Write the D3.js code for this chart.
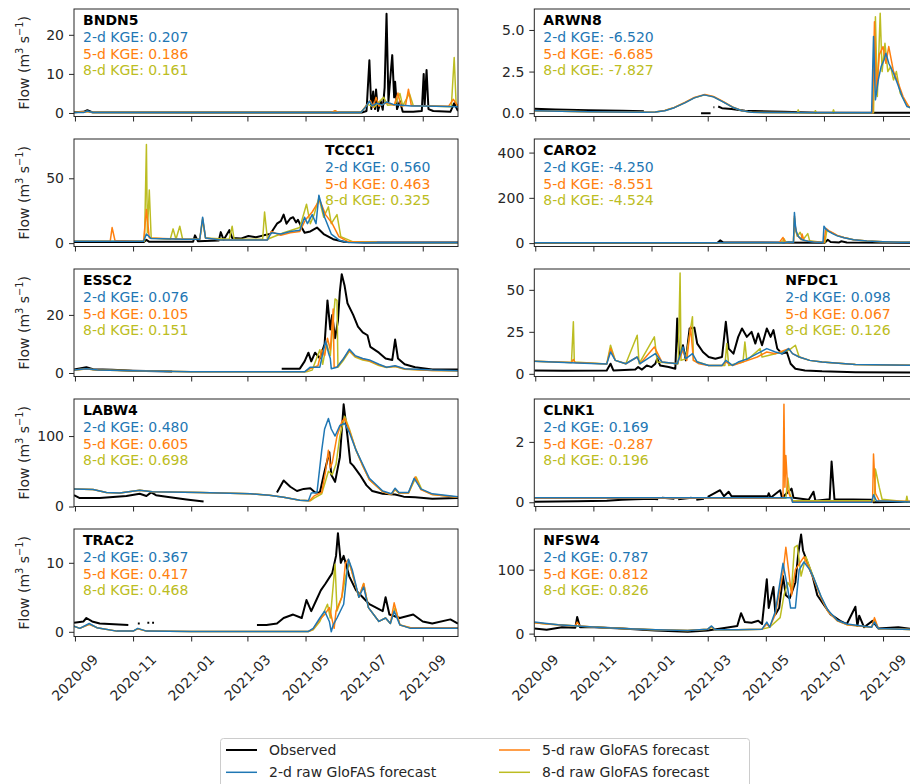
<!DOCTYPE html>
<html><head><meta charset="utf-8">
<script src="https://cdn.jsdelivr.net/npm/d3@7"></script>
<style>
body{margin:0;background:#fff}
svg{display:block}
text{font-family:"DejaVu Sans",sans-serif}
</style>
</head><body>
<svg id="chart" width="910" height="784"></svg>
<script>
// ---------------- DATA ----------------
const stations = ["BNDN5","ARWN8","TCCC1","CARO2","ESSC2","NFDC1","LABW4","CLNK1","TRAC2","NFSW4"];
const kge2 = ["0.207","-6.520","0.560","-4.250","0.076","0.098","0.480","0.169","0.367","0.787"];
const kge5 = ["0.186","-6.685","0.463","-8.551","0.105","0.067","0.605","-0.287","0.417","0.812"];
const kge8 = ["0.161","-7.827","0.325","-4.524","0.151","0.126","0.698","0.196","0.468","0.826"];
const yTicks = [[0,10,20],[0,2.5,5],[0,50],[0,200,400],[0,20],[0,25,50],[0,100],[0,2],[0,10],[0,100]];
const yLimits = [[-0.9,26.6],[-0.2,6.26],[-2.6,80.3],[-15,460],[-1.2,35.8],[-1.6,62.4],[0,152.6],[-0.14,3.42],[-0.68,14.9],[-4.5,163.6]];
const xTickLabels = ["2020-09","2020-11","2021-01","2021-03","2021-05","2021-07","2021-09"];
const dateRange = ["2020-08-31","2021-10-08"];
const seriesNames = ["Observed","2-d raw GloFAS forecast","5-d raw GloFAS forecast","8-d raw GloFAS forecast"];

const obsBNDN5 = [["2020-08-31",0.2],["2020-09-10",0.3],["2020-09-14",0.7],["2020-09-19",0.2],["2021-01-15",0.1],["2021-06-29",0.1],["2021-07-04",0.5],["2021-07-07",13.5],["2021-07-09",1.0],["2021-07-11",5.5],["2021-07-13",1.0],["2021-07-14",6.0],["2021-07-16",0.5],["2021-07-19",3.0],["2021-07-21",0.8],["2021-07-23",6.5],["2021-07-25",25.4],["2021-07-27",3.0],["2021-07-28",6.0],["2021-07-30",12.0],["2021-07-31",14.8],["2021-08-02",4.0],["2021-08-03",8.0],["2021-08-05",1.0],["2021-08-08",3.0],["2021-08-11",0.3],["2021-08-22",0.3],["2021-08-31",0.5],["2021-09-02",10.0],["2021-09-03",2.0],["2021-09-05",11.0],["2021-09-07",1.0],["2021-09-12",0.5],["2021-09-30",0.3],["2021-10-04",2.5],["2021-10-08",0.5]];
const f2BNDN5 = [["2020-08-31",0.1],["2020-09-10",0.1],["2020-09-14",0.5],["2020-09-20",0.1],["2021-06-28",0.1],["2021-07-03",1.5],["2021-07-07",3.0],["2021-07-10",1.8],["2021-07-15",2.5],["2021-07-20",2.0],["2021-07-25",2.8],["2021-08-01",2.2],["2021-08-10",2.0],["2021-08-20",1.8],["2021-09-01",1.8],["2021-09-15",1.7],["2021-10-08",1.6]];
const f5BNDN5 = [["2020-08-31",0.1],["2020-09-14",0.4],["2020-09-20",0.1],["2021-05-28",0.1],["2021-06-01",0.6],["2021-06-05",0.1],["2021-06-28",0.1],["2021-07-04",2.0],["2021-07-08",3.2],["2021-07-11",1.5],["2021-07-14",4.0],["2021-07-17",1.8],["2021-07-25",2.6],["2021-08-02",2.0],["2021-08-06",5.1],["2021-08-09",1.8],["2021-08-14",2.0],["2021-08-17",6.1],["2021-08-20",1.9],["2021-09-10",1.8],["2021-09-28",1.7],["2021-10-03",3.5],["2021-10-08",1.8]];
const f8BNDN5 = [["2020-08-31",0.1],["2020-09-14",0.4],["2020-09-20",0.1],["2021-05-28",0.1],["2021-06-01",0.5],["2021-06-05",0.1],["2021-06-28",0.1],["2021-07-05",2.2],["2021-07-12",1.5],["2021-07-22",4.0],["2021-07-26",2.0],["2021-08-03",2.2],["2021-08-08",5.0],["2021-08-11",1.8],["2021-08-18",5.0],["2021-08-22",1.9],["2021-09-15",1.7],["2021-10-01",1.6],["2021-10-04",14.2],["2021-10-06",2.5],["2021-10-08",1.6]];

const obsARWN8 = [["2020-08-31",0.27],["2020-09-22",0.22],["2020-10-27",0.18],["2020-12-01",0.15],["2020-12-24",0.12],["2020-12-25",null],["2021-02-22",0.0],["2021-03-04",0.0],["2021-03-05",null],["2021-03-07",0.35],["2021-03-08",0.35],["2021-03-09",null],["2021-03-12",0.4],["2021-03-16",0.3],["2021-03-26",0.25],["2021-04-09",0.15],["2021-05-07",0.1],["2021-05-20",0.08],["2021-06-24",0.03],["2021-10-08",0.03]];
const f2ARWN8 = [["2020-08-31",0.15],["2020-10-27",0.08],["2020-12-25",0.05],["2021-01-05",0.07],["2021-01-15",0.15],["2021-01-25",0.33],["2021-02-05",0.62],["2021-02-15",0.92],["2021-02-25",1.1],["2021-03-07",0.98],["2021-03-17",0.68],["2021-03-27",0.36],["2021-04-06",0.15],["2021-04-16",0.05],["2021-08-20",0.02],["2021-08-22",4.6],["2021-08-24",0.8],["2021-08-27",2.0],["2021-08-30",2.8],["2021-09-02",3.2],["2021-09-04",3.6],["2021-09-07",3.0],["2021-09-12",2.4],["2021-09-16",1.8],["2021-09-21",1.0],["2021-09-26",0.4],["2021-10-08",0.2]];
const f5ARWN8 = [["2020-08-31",0.15],["2020-10-27",0.08],["2020-12-25",0.05],["2021-01-05",0.07],["2021-01-15",0.16],["2021-01-25",0.34],["2021-02-05",0.64],["2021-02-15",0.94],["2021-02-26",1.12],["2021-03-07",1.0],["2021-03-17",0.7],["2021-03-27",0.37],["2021-04-06",0.15],["2021-04-16",0.05],["2021-08-21",0.02],["2021-08-23",5.5],["2021-08-25",1.2],["2021-08-28",3.5],["2021-09-01",4.0],["2021-09-04",3.0],["2021-09-07",4.0],["2021-09-12",2.5],["2021-09-17",1.8],["2021-09-22",1.0],["2021-09-28",0.4],["2021-10-08",0.2]];
const f8ARWN8 = [["2020-08-31",0.15],["2020-10-27",0.08],["2020-12-25",0.05],["2021-01-05",0.07],["2021-01-15",0.16],["2021-01-25",0.34],["2021-02-05",0.63],["2021-02-15",0.93],["2021-02-26",1.1],["2021-03-07",0.99],["2021-03-17",0.69],["2021-03-27",0.36],["2021-04-06",0.15],["2021-04-16",0.05],["2021-06-03",0.02],["2021-06-04",0.2],["2021-06-05",0.02],["2021-06-21",0.02],["2021-06-22",0.15],["2021-06-23",0.02],["2021-07-10",0.02],["2021-07-11",0.2],["2021-07-12",0.02],["2021-08-22",0.02],["2021-08-24",5.8],["2021-08-26",1.0],["2021-08-29",6.0],["2021-08-31",2.5],["2021-09-03",4.2],["2021-09-06",2.5],["2021-09-09",2.8],["2021-09-12",2.0],["2021-09-15",2.5],["2021-09-19",1.2],["2021-09-25",0.6],["2021-10-01",0.2],["2021-10-08",0.15]];

const obsTCCC1 = [["2020-08-31",0.8],["2020-11-12",0.8],["2020-11-15",2.5],["2020-11-18",1.0],["2021-01-03",1.0],["2021-01-05",6.0],["2021-01-08",1.5],["2021-01-30",2.0],["2021-02-01",8.5],["2021-02-04",2.5],["2021-02-10",10.0],["2021-02-13",4.0],["2021-02-22",3.5],["2021-03-02",5.5],["2021-03-10",4.5],["2021-03-18",6.0],["2021-03-25",7.0],["2021-04-01",15.0],["2021-04-05",17.0],["2021-04-08",22.0],["2021-04-11",15.0],["2021-04-15",19.0],["2021-04-18",20.0],["2021-04-21",16.0],["2021-04-23",18.0],["2021-04-27",12.0],["2021-04-30",8.0],["2021-05-06",9.0],["2021-05-13",12.0],["2021-05-20",7.0],["2021-05-30",3.0],["2021-06-10",1.0],["2021-07-02",0.5],["2021-10-08",0.4]];
const f2TCCC1 = [["2020-08-31",1.5],["2020-11-12",1.5],["2020-11-15",7.0],["2020-11-20",3.5],["2020-12-25",3.0],["2021-01-10",3.0],["2021-01-13",20.0],["2021-01-16",4.0],["2021-02-01",2.5],["2021-03-22",2.5],["2021-03-26",8.0],["2021-04-05",7.0],["2021-04-15",9.0],["2021-04-25",10.0],["2021-04-30",20.0],["2021-05-03",15.0],["2021-05-08",22.0],["2021-05-12",15.0],["2021-05-15",37.0],["2021-05-21",20.0],["2021-05-28",7.0],["2021-06-06",2.0],["2021-06-15",0.5],["2021-07-15",0.3],["2021-10-08",0.2]];
const f5TCCC1 = [["2020-08-31",1.5],["2020-10-08",1.5],["2020-10-10",12.0],["2020-10-13",2.0],["2020-11-12",1.5],["2020-11-15",26.0],["2020-11-18",4.0],["2020-12-25",3.0],["2021-01-10",3.0],["2021-01-13",19.0],["2021-01-16",4.0],["2021-02-01",2.5],["2021-03-22",2.5],["2021-03-26",9.0],["2021-04-05",6.0],["2021-04-15",8.0],["2021-04-25",9.0],["2021-05-01",18.0],["2021-05-08",24.0],["2021-05-13",30.0],["2021-05-16",33.0],["2021-05-22",22.0],["2021-05-29",15.0],["2021-06-05",5.0],["2021-06-15",1.0],["2021-07-15",0.4],["2021-10-08",0.3]];
const f8TCCC1 = [["2020-08-31",1.5],["2020-11-13",1.5],["2020-11-15",76.0],["2020-11-16",8.0],["2020-11-18",41.0],["2020-11-20",4.0],["2020-12-10",3.0],["2020-12-13",11.0],["2020-12-16",3.0],["2020-12-20",13.0],["2020-12-23",3.0],["2021-01-10",3.0],["2021-01-13",18.0],["2021-01-16",4.0],["2021-02-10",3.0],["2021-02-13",13.0],["2021-02-15",3.0],["2021-03-17",3.0],["2021-03-19",24.0],["2021-03-22",3.0],["2021-04-08",8.0],["2021-04-25",12.0],["2021-05-02",30.0],["2021-05-06",15.0],["2021-05-10",22.0],["2021-05-15",35.0],["2021-05-20",20.0],["2021-05-25",28.0],["2021-05-28",15.0],["2021-06-03",22.0],["2021-06-07",5.0],["2021-06-20",1.0],["2021-07-15",0.4],["2021-10-08",0.3]];

const obsCARO2 = [["2020-08-31",1],["2021-03-11",1],["2021-03-14",12],["2021-03-17",3],["2021-07-02",2],["2021-07-05",15],["2021-07-08",5],["2021-07-17",3],["2021-07-19",8],["2021-07-25",3],["2021-10-08",1]];
const f2CARO2 = [["2020-08-31",2],["2021-05-20",2],["2021-05-25",5],["2021-05-30",4],["2021-05-31",135],["2021-06-01",80],["2021-06-02",50],["2021-06-04",30],["2021-06-08",15],["2021-06-14",8],["2021-06-20",5],["2021-06-30",3],["2021-07-01",75],["2021-07-03",62],["2021-07-06",52],["2021-07-10",42],["2021-07-15",32],["2021-07-22",24],["2021-08-01",15],["2021-08-15",9],["2021-09-01",6],["2021-09-20",4],["2021-10-08",3]];
const f5CARO2 = [["2020-08-31",2],["2021-05-15",2],["2021-05-19",25],["2021-05-21",3],["2021-05-30",4],["2021-05-31",120],["2021-06-01",70],["2021-06-03",35],["2021-06-07",15],["2021-06-08",40],["2021-06-10",12],["2021-06-18",7],["2021-06-25",5],["2021-07-01",3],["2021-07-03",65],["2021-07-06",55],["2021-07-10",46],["2021-07-15",34],["2021-07-22",25],["2021-08-01",15],["2021-08-15",9],["2021-09-01",6],["2021-09-20",4],["2021-10-08",3]];
const f8CARO2 = [["2020-08-31",2],["2021-05-18",2],["2021-05-20",20],["2021-05-22",3],["2021-05-30",4],["2021-05-31",110],["2021-06-01",60],["2021-06-03",30],["2021-06-06",48],["2021-06-09",15],["2021-06-14",42],["2021-06-16",10],["2021-06-28",4],["2021-07-02",3],["2021-07-04",55],["2021-07-07",50],["2021-07-10",44],["2021-07-15",33],["2021-07-22",25],["2021-08-01",15],["2021-08-15",9],["2021-09-01",6],["2021-09-20",4],["2021-10-08",3]];

const obsESSC2 = [["2020-08-31",1.2],["2020-09-13",2.0],["2020-09-20",1.3],["2020-10-10",1.1],["2020-11-01",0.8],["2020-12-12",0.5],["2020-12-13",null],["2021-04-06",1.5],["2021-04-25",1.5],["2021-04-30",4.0],["2021-05-04",7.0],["2021-05-07",4.0],["2021-05-11",7.0],["2021-05-16",5.0],["2021-05-21",10.0],["2021-05-24",25.0],["2021-05-27",15.0],["2021-05-29",20.0],["2021-06-01",12.0],["2021-06-04",18.0],["2021-06-06",28.0],["2021-06-08",34.0],["2021-06-11",30.0],["2021-06-14",24.0],["2021-06-20",20.0],["2021-06-25",16.0],["2021-06-30",14.0],["2021-07-05",13.0],["2021-07-08",9.0],["2021-07-17",7.0],["2021-07-24",5.0],["2021-07-31",4.5],["2021-08-03",11.5],["2021-08-06",5.0],["2021-08-13",3.0],["2021-08-24",2.0],["2021-09-11",1.2],["2021-10-08",1.2]];
const f2ESSC2 = [["2020-08-31",1.0],["2020-09-13",1.5],["2020-09-25",1.0],["2020-11-01",0.8],["2021-01-01",0.4],["2021-04-30",0.4],["2021-05-06",2.0],["2021-05-16",2.0],["2021-05-22",11.0],["2021-05-25",7.0],["2021-05-27",5.0],["2021-05-28",1.5],["2021-06-03",2.0],["2021-06-10",5.0],["2021-06-16",8.2],["2021-06-22",6.0],["2021-06-30",5.0],["2021-07-07",4.5],["2021-07-17",3.0],["2021-07-25",2.0],["2021-08-03",2.5],["2021-08-13",1.5],["2021-09-11",1.0],["2021-10-08",0.8]];
const f5ESSC2 = [["2020-08-31",1.0],["2020-09-13",1.4],["2020-09-25",1.0],["2020-11-01",0.8],["2021-01-01",0.4],["2021-04-30",0.4],["2021-05-06",1.5],["2021-05-14",2.5],["2021-05-18",8.0],["2021-05-21",6.0],["2021-05-24",12.0],["2021-05-27",8.0],["2021-05-30",22.0],["2021-05-31",2.0],["2021-06-03",2.0],["2021-06-10",5.0],["2021-06-16",7.8],["2021-06-22",5.8],["2021-06-30",4.8],["2021-07-07",4.2],["2021-07-17",2.8],["2021-07-25",2.0],["2021-08-03",2.3],["2021-08-13",1.4],["2021-09-11",0.9],["2021-10-08",0.8]];
const f8ESSC2 = [["2020-08-31",1.0],["2020-09-13",1.4],["2020-09-25",1.0],["2020-11-01",0.8],["2021-01-01",0.4],["2021-05-02",0.4],["2021-05-08",1.0],["2021-05-16",8.0],["2021-05-19",3.0],["2021-05-23",10.0],["2021-05-27",6.0],["2021-06-01",25.5],["2021-06-03",25.0],["2021-06-04",2.0],["2021-06-10",4.5],["2021-06-16",7.5],["2021-06-22",5.5],["2021-06-30",4.5],["2021-07-07",4.0],["2021-07-17",2.6],["2021-07-25",1.9],["2021-08-03",2.2],["2021-08-13",1.3],["2021-09-11",0.9],["2021-10-08",0.8]];

const obsNFDC1 = [["2020-08-31",2.0],["2020-10-01",1.8],["2020-11-15",2.0],["2020-11-19",6.0],["2020-11-22",2.0],["2020-12-15",2.5],["2020-12-18",4.0],["2020-12-22",2.5],["2020-12-27",5.0],["2021-01-01",4.0],["2021-01-05",6.0],["2021-01-07",9.0],["2021-01-10",5.0],["2021-01-19",4.0],["2021-01-26",3.0],["2021-01-28",33.0],["2021-01-30",10.0],["2021-02-03",17.0],["2021-02-06",8.0],["2021-02-10",27.0],["2021-02-15",27.5],["2021-02-18",18.0],["2021-02-24",13.0],["2021-03-02",10.0],["2021-03-09",9.0],["2021-03-16",10.0],["2021-03-20",31.0],["2021-03-23",15.0],["2021-03-28",12.0],["2021-04-02",22.0],["2021-04-06",27.0],["2021-04-11",22.0],["2021-04-16",25.0],["2021-04-20",18.0],["2021-04-23",24.0],["2021-04-27",17.0],["2021-05-02",27.0],["2021-05-06",22.0],["2021-05-09",26.0],["2021-05-13",15.0],["2021-05-18",12.0],["2021-05-23",13.0],["2021-05-27",6.0],["2021-06-01",3.0],["2021-06-11",2.0],["2021-06-29",1.5],["2021-08-03",1.0],["2021-10-08",0.8]];
const f2NFDC1 = [["2020-08-31",7.5],["2020-10-15",6.5],["2020-11-15",5.8],["2020-11-19",13.0],["2020-11-24",8.0],["2020-12-05",6.0],["2020-12-17",10.0],["2020-12-20",6.0],["2021-01-05",12.0],["2021-01-12",7.0],["2021-01-28",6.0],["2021-02-03",16.0],["2021-02-06",9.0],["2021-02-13",12.0],["2021-02-18",7.0],["2021-03-02",5.0],["2021-03-16",5.0],["2021-03-20",8.0],["2021-03-27",5.0],["2021-04-02",7.0],["2021-04-12",9.0],["2021-04-22",12.0],["2021-05-02",15.0],["2021-05-11",13.0],["2021-05-18",12.0],["2021-05-25",15.0],["2021-05-29",12.0],["2021-06-05",10.0],["2021-06-16",8.0],["2021-06-29",7.0],["2021-08-03",5.5],["2021-10-08",5.0]];
const f5NFDC1 = [["2020-08-31",7.5],["2020-10-09",6.8],["2020-10-11",8.5],["2020-10-13",6.7],["2020-11-15",5.8],["2020-11-19",15.0],["2020-11-24",8.0],["2020-12-05",6.0],["2020-12-17",10.0],["2020-12-20",6.0],["2021-01-04",16.0],["2021-01-12",7.0],["2021-01-28",6.0],["2021-02-03",14.0],["2021-02-07",8.0],["2021-02-11",28.0],["2021-02-14",8.0],["2021-02-20",6.0],["2021-03-02",5.0],["2021-03-16",5.0],["2021-03-20",7.0],["2021-03-27",5.0],["2021-04-12",8.0],["2021-04-22",10.0],["2021-05-02",13.0],["2021-05-11",12.0],["2021-05-25",15.0],["2021-05-29",12.0],["2021-06-05",10.0],["2021-06-16",8.0],["2021-06-29",7.0],["2021-08-03",5.5],["2021-10-08",5.0]];
const f8NFDC1 = [["2020-08-31",7.5],["2020-10-09",6.8],["2020-10-11",31.0],["2020-10-12",7.0],["2020-11-15",5.8],["2020-11-19",17.0],["2020-11-24",8.0],["2020-12-05",6.0],["2020-12-17",23.0],["2020-12-19",6.0],["2021-01-04",22.0],["2021-01-07",7.0],["2021-01-29",6.0],["2021-01-31",60.0],["2021-02-01",8.0],["2021-02-06",9.0],["2021-02-13",34.0],["2021-02-14",8.0],["2021-03-02",5.0],["2021-03-19",5.0],["2021-03-21",18.0],["2021-03-23",5.0],["2021-04-07",7.0],["2021-04-09",19.0],["2021-04-11",8.0],["2021-04-25",15.0],["2021-04-27",10.0],["2021-05-11",12.0],["2021-05-25",14.0],["2021-06-01",17.0],["2021-06-05",10.0],["2021-06-16",8.0],["2021-06-29",7.0],["2021-08-03",5.5],["2021-10-08",5.0]];

const obsLABW4 = [["2020-08-31",16],["2020-09-06",12],["2020-09-27",12],["2020-10-25",15],["2020-11-08",18],["2020-11-15",15],["2020-11-20",20],["2020-11-25",16],["2020-12-06",14],["2020-12-27",10],["2021-01-14",7],["2021-01-15",null],["2021-04-01",20],["2021-04-08",37],["2021-04-15",28],["2021-04-22",22],["2021-04-29",25],["2021-05-06",26],["2021-05-11",20],["2021-05-16",20],["2021-05-21",50],["2021-05-26",77],["2021-05-28",45],["2021-06-01",35],["2021-06-06",70],["2021-06-10",145],["2021-06-14",100],["2021-06-17",62],["2021-06-20",58],["2021-06-27",45],["2021-07-04",30],["2021-07-10",22],["2021-07-21",18],["2021-08-03",17],["2021-08-12",14],["2021-08-24",13],["2021-09-11",11],["2021-10-08",12]];
const f2LABW4 = [["2020-08-31",25],["2020-09-20",24],["2020-10-04",20],["2020-10-18",19],["2020-11-08",23],["2020-11-21",21],["2021-01-10",20],["2021-03-04",18],["2021-03-14",17],["2021-03-24",16],["2021-04-08",13],["2021-04-25",9],["2021-05-04",8],["2021-05-07",19],["2021-05-13",20],["2021-05-18",80],["2021-05-21",110],["2021-05-25",125],["2021-05-28",110],["2021-06-01",100],["2021-06-06",115],["2021-06-11",118],["2021-06-16",105],["2021-06-23",80],["2021-06-30",60],["2021-07-07",40],["2021-07-21",22],["2021-07-30",18],["2021-08-03",26],["2021-08-07",20],["2021-08-17",20],["2021-08-23",40],["2021-08-30",25],["2021-09-11",18],["2021-10-08",14]];
const f5LABW4 = [["2020-08-31",25],["2020-09-20",24],["2020-10-04",20],["2020-10-18",19],["2020-11-08",23],["2020-11-21",21],["2021-01-10",20],["2021-03-04",18],["2021-03-14",17],["2021-03-24",16],["2021-04-08",13],["2021-04-25",9],["2021-05-05",8],["2021-05-10",15],["2021-05-18",20],["2021-05-22",50],["2021-05-25",80],["2021-05-27",55],["2021-05-29",62],["2021-06-03",100],["2021-06-08",120],["2021-06-11",125],["2021-06-16",108],["2021-06-23",80],["2021-06-30",58],["2021-07-07",38],["2021-07-21",21],["2021-07-30",17],["2021-08-03",25],["2021-08-07",19],["2021-08-17",19],["2021-08-24",42],["2021-08-30",24],["2021-09-11",17],["2021-10-08",13]];
const f8LABW4 = [["2020-08-31",25],["2020-09-20",24],["2020-10-04",20],["2020-10-18",19],["2020-11-08",23],["2020-11-21",21],["2021-01-10",20],["2021-03-04",18],["2021-03-14",17],["2021-03-24",16],["2021-04-08",13],["2021-04-25",9],["2021-05-06",8],["2021-05-10",12],["2021-05-18",18],["2021-05-25",50],["2021-05-29",45],["2021-06-02",60],["2021-06-06",100],["2021-06-11",128],["2021-06-16",110],["2021-06-23",80],["2021-06-30",58],["2021-07-07",38],["2021-07-21",21],["2021-07-30",17],["2021-08-03",24],["2021-08-07",19],["2021-08-17",19],["2021-08-25",42],["2021-08-31",24],["2021-09-11",17],["2021-10-08",13]];

const obsCLNK1 = [["2020-08-31",0.02],["2020-10-15",0.03],["2020-11-15",0.05],["2020-12-01",0.08],["2020-12-15",0.1],["2021-01-01",0.12],["2021-01-08",0.1],["2021-01-09",null],["2021-01-12",0.15],["2021-01-25",0.12],["2021-01-26",null],["2021-01-29",0.1],["2021-02-12",0.15],["2021-02-13",null],["2021-02-17",0.08],["2021-02-25",0.12],["2021-02-26",null],["2021-03-01",0.18],["2021-03-14",0.4],["2021-03-18",0.2],["2021-03-23",0.35],["2021-03-26",0.2],["2021-04-10",0.2],["2021-05-03",0.2],["2021-05-04",0.3],["2021-05-06",0.15],["2021-05-16",0.4],["2021-05-18",0.15],["2021-05-28",0.45],["2021-05-30",0.15],["2021-06-15",0.08],["2021-06-20",0.35],["2021-06-22",0.05],["2021-07-07",0.1],["2021-07-09",1.35],["2021-07-12",0.1],["2021-08-20",0.08],["2021-08-22",0.0],["2021-10-08",0.02]];
const f2CLNK1 = [["2020-08-31",0.15],["2021-05-28",0.15],["2021-05-29",0.0],["2021-08-20",0.0],["2021-08-22",0.25],["2021-08-25",0.05],["2021-10-08",0.0]];
const f5CLNK1 = [["2020-08-31",0.13],["2021-05-19",0.13],["2021-05-20",3.25],["2021-05-21",0.5],["2021-05-22",1.55],["2021-05-24",0.4],["2021-05-27",0.15],["2021-05-29",0.02],["2021-08-21",0.02],["2021-08-22",1.6],["2021-08-24",0.3],["2021-08-28",0.05],["2021-10-08",0.02]];
const f8CLNK1 = [["2020-08-31",0.13],["2021-05-22",0.13],["2021-05-24",0.8],["2021-05-26",0.3],["2021-05-29",0.05],["2021-08-23",0.05],["2021-08-24",1.1],["2021-08-28",0.5],["2021-08-31",0.1],["2021-09-25",0.02],["2021-09-26",0.2],["2021-09-27",0.02],["2021-10-08",0.02]];

const obsTRAC2 = [["2020-08-31",1.3],["2020-09-10",1.5],["2020-09-13",2.0],["2020-09-19",1.5],["2020-09-27",1.2],["2020-10-27",1.0],["2020-10-28",null],["2020-11-06",1.2],["2020-11-08",1.2],["2020-11-09",null],["2020-11-16",1.3],["2020-11-18",1.3],["2020-11-19",null],["2020-11-21",1.3],["2020-11-23",1.3],["2020-11-24",null],["2021-03-11",1.0],["2021-03-21",1.0],["2021-04-01",1.2],["2021-04-08",2.0],["2021-04-18",2.5],["2021-04-27",2.0],["2021-05-02",4.6],["2021-05-07",3.0],["2021-05-12",4.5],["2021-05-17",6.0],["2021-05-22",7.0],["2021-05-29",8.5],["2021-06-02",11.0],["2021-06-04",14.3],["2021-06-07",10.0],["2021-06-10",11.0],["2021-06-16",8.0],["2021-06-23",6.0],["2021-06-30",5.0],["2021-07-07",4.0],["2021-07-21",3.0],["2021-07-24",5.0],["2021-07-28",2.5],["2021-08-08",2.0],["2021-08-22",2.5],["2021-09-01",1.5],["2021-09-11",1.2],["2021-09-30",1.8],["2021-10-08",1.2]];
const f2TRAC2 = [["2020-08-31",0.8],["2020-09-06",0.5],["2020-09-16",1.2],["2020-09-24",0.6],["2020-10-15",0.1],["2020-11-01",0.1],["2020-11-06",0.5],["2020-11-15",0.1],["2021-01-01",0.05],["2021-05-04",0.05],["2021-05-09",0.5],["2021-05-16",2.0],["2021-05-21",3.0],["2021-05-26",1.5],["2021-05-28",0.0],["2021-05-30",1.0],["2021-06-03",2.0],["2021-06-10",4.0],["2021-06-15",10.5],["2021-06-19",9.0],["2021-06-26",5.0],["2021-07-01",6.5],["2021-07-06",3.5],["2021-07-17",1.5],["2021-07-24",2.0],["2021-07-29",1.2],["2021-08-02",3.0],["2021-08-08",1.0],["2021-08-19",0.5],["2021-10-08",0.5]];
const f5TRAC2 = [["2020-08-31",0.8],["2020-09-06",0.5],["2020-09-16",1.1],["2020-09-24",0.6],["2020-10-15",0.1],["2020-11-01",0.1],["2020-11-06",0.45],["2020-11-15",0.1],["2021-01-01",0.05],["2021-05-04",0.05],["2021-05-09",0.4],["2021-05-16",1.8],["2021-05-21",2.5],["2021-05-26",3.5],["2021-05-31",0.5],["2021-06-02",3.0],["2021-06-08",5.0],["2021-06-12",10.0],["2021-06-15",10.5],["2021-06-19",8.5],["2021-06-26",5.0],["2021-07-01",7.0],["2021-07-06",3.5],["2021-07-17",1.5],["2021-07-24",2.0],["2021-07-29",1.2],["2021-08-02",4.2],["2021-08-08",1.0],["2021-08-19",0.6],["2021-10-08",0.6]];
const f8TRAC2 = [["2020-08-31",0.8],["2020-09-06",0.5],["2020-09-16",1.1],["2020-09-24",0.6],["2020-10-15",0.1],["2020-11-01",0.1],["2020-11-06",0.45],["2020-11-15",0.1],["2021-01-01",0.05],["2021-05-04",0.05],["2021-05-09",0.3],["2021-05-16",1.5],["2021-05-24",4.0],["2021-05-27",2.0],["2021-06-01",9.8],["2021-06-03",3.0],["2021-06-08",5.0],["2021-06-12",8.0],["2021-06-16",10.0],["2021-06-20",8.0],["2021-06-26",5.0],["2021-07-01",7.0],["2021-07-06",3.5],["2021-07-17",1.5],["2021-07-24",2.0],["2021-07-29",1.2],["2021-08-03",3.5],["2021-08-08",1.0],["2021-08-19",0.6],["2021-10-08",0.6]];

const obsNFSW4 = [["2020-08-31",8],["2020-09-13",6],["2020-09-29",10],["2020-10-13",9],["2020-10-15",26],["2020-10-18",10],["2020-11-02",10],["2020-12-01",8],["2021-01-05",5],["2021-02-08",3],["2021-03-01",5],["2021-03-15",8],["2021-04-01",12],["2021-04-05",32],["2021-04-09",18],["2021-04-16",17],["2021-04-23",20],["2021-04-27",15],["2021-05-02",85],["2021-05-04",40],["2021-05-09",73],["2021-05-11",30],["2021-05-15",40],["2021-05-19",90],["2021-05-22",60],["2021-05-26",55],["2021-06-01",80],["2021-06-04",125],["2021-06-07",155],["2021-06-09",130],["2021-06-14",110],["2021-06-19",90],["2021-06-24",60],["2021-07-01",45],["2021-07-08",30],["2021-07-18",20],["2021-07-25",15],["2021-08-03",42],["2021-08-05",12],["2021-08-07",28],["2021-08-12",10],["2021-08-21",20],["2021-08-27",8],["2021-09-17",10],["2021-10-08",6]];
const f2NFSW4 = [["2020-08-31",18],["2020-09-13",16],["2020-09-25",14],["2020-10-15",12],["2020-11-05",10],["2020-12-01",8],["2021-01-05",6],["2021-02-08",5],["2021-03-01",7],["2021-03-05",12],["2021-03-09",6],["2021-04-01",6],["2021-04-27",7],["2021-05-02",18],["2021-05-05",10],["2021-05-11",35],["2021-05-19",110],["2021-05-24",70],["2021-05-27",40],["2021-06-01",40],["2021-06-05",100],["2021-06-10",112],["2021-06-16",100],["2021-06-20",88],["2021-06-28",58],["2021-07-05",37],["2021-07-15",21],["2021-07-25",15],["2021-08-20",10],["2021-08-23",18],["2021-08-27",8],["2021-10-08",6]];
const f5NFSW4 = [["2020-08-31",17],["2020-09-13",15],["2020-10-13",12],["2020-10-15",18],["2020-10-18",12],["2020-11-05",10],["2020-12-01",8],["2021-01-05",6],["2021-02-08",5],["2021-03-01",7],["2021-03-05",11],["2021-03-09",6],["2021-04-01",6],["2021-04-27",7],["2021-05-02",15],["2021-05-05",10],["2021-05-11",30],["2021-05-19",95],["2021-05-22",135],["2021-05-28",60],["2021-06-01",100],["2021-06-10",120],["2021-06-16",100],["2021-06-20",86],["2021-06-28",56],["2021-07-05",35],["2021-07-15",20],["2021-07-25",14],["2021-08-20",10],["2021-08-23",25],["2021-08-27",8],["2021-10-08",6]];
const f8NFSW4 = [["2020-08-31",17],["2020-09-13",15],["2020-10-15",12],["2020-11-05",10],["2020-12-01",8],["2021-01-05",6],["2021-02-08",5],["2021-03-01",7],["2021-03-05",10],["2021-03-09",6],["2021-04-01",6],["2021-04-27",7],["2021-05-05",10],["2021-05-16",25],["2021-05-20",60],["2021-05-24",80],["2021-05-28",70],["2021-05-31",135],["2021-06-03",138],["2021-06-07",90],["2021-06-12",120],["2021-06-20",88],["2021-06-28",57],["2021-07-05",35],["2021-07-15",20],["2021-07-25",14],["2021-08-20",10],["2021-08-23",22],["2021-08-27",8],["2021-10-08",6]];

// ---------------- TABLE BUILT FROM THE ARRAYS ----------------
const obsAll = [obsBNDN5,obsARWN8,obsTCCC1,obsCARO2,obsESSC2,obsNFDC1,obsLABW4,obsCLNK1,obsTRAC2,obsNFSW4];
const f2All = [f2BNDN5,f2ARWN8,f2TCCC1,f2CARO2,f2ESSC2,f2NFDC1,f2LABW4,f2CLNK1,f2TRAC2,f2NFSW4];
const f5All = [f5BNDN5,f5ARWN8,f5TCCC1,f5CARO2,f5ESSC2,f5NFDC1,f5LABW4,f5CLNK1,f5TRAC2,f5NFSW4];
const f8All = [f8BNDN5,f8ARWN8,f8TCCC1,f8CARO2,f8ESSC2,f8NFDC1,f8LABW4,f8CLNK1,f8TRAC2,f8NFSW4];

// ---------------- LAYOUT / STYLE ----------------
const colors = {obs:"#000000", f2:"#1f77b4", f5:"#ff7f0e", f8:"#bcbd22"};
const W = 384, H = 107.5;
const colX = [74, 534.3];
const rowY = [9, 139, 269, 399, 529];
const textRight = [false,false,true,false,false,true,false,false,false,false];
const axisColor = "#262626";
const fs = 14;

const parse = d3.timeParse("%Y-%m-%d");
const svg = d3.select("#chart");
const x = d3.scaleTime().domain(dateRange.map(parse)).range([0, W]);
const xTickDates = xTickLabels.map(s => parse(s + "-01"));

stations.forEach((name, i) => {
  const col = i % 2, row = Math.floor(i / 2);
  const g = svg.append("g").attr("transform", `translate(${colX[col]},${rowY[row]})`);
  const y = d3.scaleLinear().domain(yLimits[i]).range([H, 0]);

  const clipId = "clip" + i;
  g.append("clipPath").attr("id", clipId).append("rect").attr("width", W).attr("height", H);

  const line = d3.line()
    .defined(d => d[1] !== null)
    .x(d => x(parse(d[0])))
    .y(d => y(d[1]));

  const plot = g.append("g").attr("clip-path", `url(#${clipId})`);
  const layers = [
    {data: obsAll[i], color: colors.obs, w: 2},
    {data: f8All[i], color: colors.f8, w: 1.5},
    {data: f5All[i], color: colors.f5, w: 1.5},
    {data: f2All[i], color: colors.f2, w: 1.5}
  ];
  layers.forEach(l => {
    plot.append("path").datum(l.data)
      .attr("d", line)
      .attr("fill", "none")
      .attr("stroke", l.color)
      .attr("stroke-width", l.w)
      .attr("stroke-linejoin", "round")
      .attr("stroke-linecap", "butt");
  });

  // frame
  g.append("rect").attr("width", W).attr("height", H)
    .attr("fill", "none").attr("stroke", axisColor).attr("stroke-width", 1);

  // y axis
  const yAxis = d3.axisLeft(y).tickValues(yTicks[i]).tickSize(5).tickPadding(5)
    .tickFormat(i === 1 ? d3.format(".1f") : d3.format("d"));
  const ya = g.append("g").call(yAxis);
  ya.select(".domain").remove();
  ya.selectAll("line").attr("stroke", axisColor);
  ya.selectAll("text").attr("font-size", fs).attr("fill", axisColor)
    .attr("font-family", "DejaVu Sans");

  // x axis
  const xAxis = d3.axisBottom(x).tickValues(xTickDates).tickSize(5).tickFormat("");
  const xa = g.append("g").attr("transform", `translate(0,${H})`).call(xAxis);
  xa.select(".domain").remove();
  xa.selectAll("line").attr("stroke", axisColor);

  if (row === 4) {
    xTickDates.forEach((d, k) => {
      const cx = x(d), cy = H + 41;
      g.append("text")
        .attr("x", cx).attr("y", cy)
        .attr("text-anchor", "middle")
        .attr("dominant-baseline", "central")
        .attr("font-size", fs).attr("fill", axisColor)
        .attr("transform", `rotate(-45,${cx},${cy})`)
        .text(xTickLabels[k]);
    });
  }

  // y label
  if (col === 0) {
    const t = svg.append("text")
      .attr("transform", `translate(29,${rowY[row] + H / 2}) rotate(-90)`)
      .attr("text-anchor", "middle")
      .attr("font-size", fs).attr("fill", axisColor);
    t.append("tspan").text("Flow (m");
    t.append("tspan").attr("dy", -6).attr("font-size", fs * 0.7).text("3");
    t.append("tspan").attr("dy", 6).text(" s");
    t.append("tspan").attr("dy", -6).attr("font-size", fs * 0.7).text("\u22121");
    t.append("tspan").attr("dy", 6).text(")");
  }

  // annotation
  const tx = textRight[i] ? 251 : 9;
  const ann = [
    {t: name, c: "#000", b: true, dy: 16},
    {t: "2-d KGE: " + kge2[i], c: colors.f2, dy: 33},
    {t: "5-d KGE: " + kge5[i], c: colors.f5, dy: 49.5},
    {t: "8-d KGE: " + kge8[i], c: colors.f8, dy: 66}
  ];
  ann.forEach(a => {
    g.append("text").attr("x", tx).attr("y", a.dy)
      .attr("font-size", fs).attr("fill", a.c)
      .attr("font-weight", a.b ? "bold" : "normal")
      .text(a.t);
  });
});

// ---------------- LEGEND ----------------
const legendColors = [colors.obs, colors.f2, colors.f5, colors.f8];
const lg = svg.append("g");
lg.append("rect").attr("x", 220.5).attr("y", 738.5).attr("width", 529).attr("height", 70)
  .attr("rx", 3).attr("fill", "#fff").attr("stroke", "#cccccc").attr("stroke-width", 1);
const legCol = [226, 499], legRow = [750, 772.3];
seriesNames.forEach((nm, k) => {
  const c = Math.floor(k / 2), r = k % 2;
  lg.append("line").attr("x1", legCol[c]).attr("x2", legCol[c] + 31)
    .attr("y1", legRow[r]).attr("y2", legRow[r])
    .attr("stroke", legendColors[k]).attr("stroke-width", k === 0 ? 2 : 1.5);
  lg.append("text").attr("x", legCol[c] + 43).attr("y", legRow[r] + 5)
    .attr("font-size", fs).attr("fill", axisColor).text(nm);
});
</script>
</body></html>
